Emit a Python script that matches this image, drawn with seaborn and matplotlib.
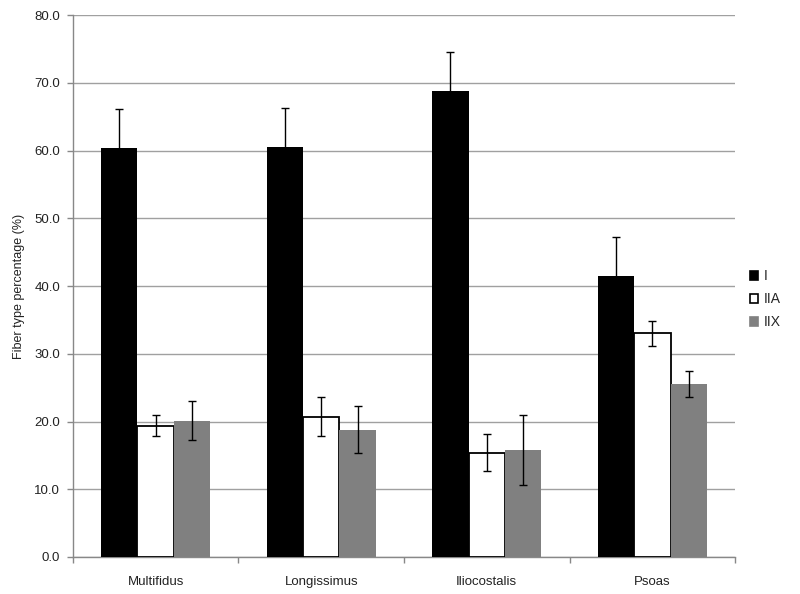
import matplotlib
matplotlib.use("Agg")
import matplotlib.pyplot as plt
import seaborn as sns
import pandas as pd
import numpy as np

muscles = ["Multifidus", "Longissimus", "Iliocostalis", "Psoas"]
fiber_types = ["I", "IIA", "IIX"]
type_I = [60.4, 60.5, 68.8, 41.5]
type_IIA = [19.4, 20.7, 15.4, 33.0]
type_IIX = [20.1, 18.8, 15.8, 25.5]
err_I = [5.8, 5.8, 5.8, 5.8]
err_IIA = [1.5, 2.9, 2.7, 1.8]
err_IIX = [2.9, 3.5, 5.1, 1.9]

rows = []
for ft, vals, errs in zip(fiber_types, [type_I, type_IIA, type_IIX], [err_I, err_IIA, err_IIX]):
    for m, v, e in zip(muscles, vals, errs):
        rows.append({"muscle": m, "type": ft, "value": v, "err": e})
df = pd.DataFrame(rows)

sns.set_theme(style="white")
plt.rcParams["font.family"] = ["Liberation Sans", "DejaVu Sans"]

fig = plt.figure(figsize=(8, 5.94), dpi=100)
ax = fig.add_axes([0.091, 0.0623, 0.828, 0.9124])

palette = {"I": "#000000", "IIA": "#ffffff", "IIX": "#808080"}
sns.barplot(data=df, x="muscle", y="value", hue="type", order=muscles,
            hue_order=fiber_types, palette=palette, width=0.66, gap=0,
            errorbar=None, ax=ax, saturation=1, zorder=3)

for i, ft in enumerate(fiber_types):
    cont = ax.containers[i]
    sub = df[df["type"] == ft].set_index("muscle").loc[muscles]
    xs = []
    for p in cont.patches:
        xs.append(p.get_x() + p.get_width() / 2)
        if ft == "IIA":
            p.set_edgecolor("black")
            p.set_linewidth(1.3)
        else:
            p.set_edgecolor("none")
    ax.errorbar(xs, sub["value"].values, yerr=sub["err"].values, fmt="none",
                ecolor="black", elinewidth=1, capsize=3, capthick=1, zorder=4)

ax.set_ylim(0, 80)
ax.set_xlim(-0.5, 3.5)
ax.set_yticks(np.arange(0, 81, 10))
ax.set_yticklabels([f"{v:.1f}" for v in np.arange(0, 81, 10)], fontsize=9.5, color="#222222")
ax.tick_params(axis="x", labelsize=9.5, colors="#222222", length=0, pad=14)
ax.tick_params(axis="y", length=4, direction="out", color="#888888", width=1, left=True, pad=5)
ax.set_xticks(np.arange(-0.5, 3.6, 1), minor=True)
ax.tick_params(axis="x", which="minor", length=4, direction="out", color="#888888", bottom=True)
ax.yaxis.grid(True, color="#a0a0a0", linewidth=1, zorder=0)
ax.set_axisbelow(True)
for s in ["top", "right"]:
    ax.spines[s].set_visible(False)
for s in ["left", "bottom"]:
    ax.spines[s].set_color("#888888")
    ax.spines[s].set_linewidth(1)
ax.set_xlabel("")
ax.set_ylabel("Fiber type percentage (%)", fontsize=9, color="#222222", labelpad=7)

handles, labels = ax.get_legend_handles_labels()
for h, lab in zip(handles, labels):
    h.set_edgecolor("black" if lab == "IIA" else palette[lab])
    h.set_linewidth(1.2)
ax.legend(handles, labels, loc="center left", bbox_to_anchor=(1.003, 0.476),
          frameon=False, fontsize=10, handlelength=0.6, handleheight=0.6,
          handletextpad=0.4, labelspacing=0.65)

fig.savefig("out.png", dpi=100)
